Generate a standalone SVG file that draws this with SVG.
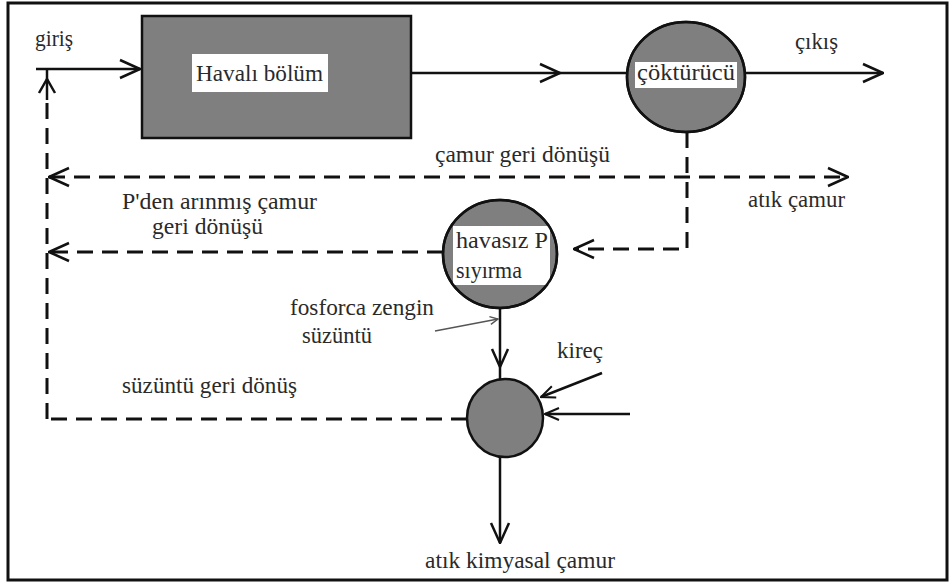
<svg xmlns="http://www.w3.org/2000/svg" width="952" height="584" viewBox="0 0 952 584" font-family="'Liberation Serif', 'DejaVu Serif', serif">
  <style>
    text { font-family: 'Liberation Serif', 'DejaVu Serif', 'Noto Serif', serif; font-size: 23px; fill: #2a2a2a; }
    .unit { fill: #7f7f7f; stroke: #111; stroke-width: 2.5; }
    .outline { fill: none; stroke: #111; stroke-width: 2.5; }
    .label-bg { fill: #ffffff; stroke: none; }
    .flow { fill: none; stroke: #111; stroke-width: 2.5; }
    .dash { fill: none; stroke: #111; stroke-width: 3; stroke-dasharray: 16 9; }
    .thin { fill: none; stroke: #555; stroke-width: 1.4; }
    .head { fill: none; stroke: #111; stroke-width: 2.5; stroke-linejoin: miter; }
  </style>
  <defs>
    <marker id="arrow" viewBox="0 0 22 22" refX="21" refY="11" markerWidth="22" markerHeight="22" markerUnits="userSpaceOnUse" orient="auto-start-reverse">
      <path d="M1,2 L21,11 L1,20" fill="none" stroke="#111" stroke-width="2.5" stroke-dasharray="none"/>
    </marker>
    <marker id="arrow-sm" viewBox="0 0 16 16" refX="15" refY="8" markerWidth="16" markerHeight="16" markerUnits="userSpaceOnUse" orient="auto">
      <path d="M1,2 L15,8 L1,14" fill="none" stroke="#111" stroke-width="2" stroke-dasharray="none"/>
    </marker>
    <marker id="arrow-thin" viewBox="0 0 10 10" refX="9" refY="5" markerWidth="10" markerHeight="10" markerUnits="userSpaceOnUse" orient="auto">
      <path d="M1,1 L9,5 L1,9" fill="none" stroke="#555" stroke-width="1.4"/>
    </marker>
  </defs>

  <rect x="0" y="0" width="952" height="584" fill="#ffffff"/>
  <!-- frame -->
  <rect x="8" y="3" width="939" height="577" fill="none" stroke="#111" stroke-width="3"/>

  <!-- connectors -->
  <g id="connectors">
    <!-- influent -->
    <line class="flow" x1="36" y1="69" x2="140" y2="69" marker-end="url(#arrow)"/>
    <!-- aerated zone to clarifier -->
    <line class="flow" x1="411" y1="73" x2="627" y2="73"/>
    <path class="head" d="M540,64 L560,73 L540,82"/>
    <!-- effluent -->
    <line class="flow" x1="745" y1="73" x2="883" y2="73" marker-end="url(#arrow)"/>

    <!-- sludge return / waste sludge line -->
    <line class="dash" x1="49" y1="177" x2="848" y2="177" marker-start="url(#arrow)" marker-end="url(#arrow)"/>
    <!-- clarifier underflow to stripper -->
    <polyline class="dash" points="687,132 687,249 574,249" marker-end="url(#arrow)"/>
    <!-- P-stripped sludge return -->
    <line class="dash" x1="443" y1="252" x2="49" y2="252" marker-end="url(#arrow)"/>
    <!-- supernatant return -->
    <line class="dash" x1="467" y1="419" x2="47" y2="419"/>
    <!-- left recycle riser -->
    <line class="dash" x1="47" y1="419" x2="47" y2="96"/>
    <line class="flow" x1="47" y1="100" x2="47" y2="70"/>
    <path class="head" d="M39,93 L47,79 L55,93"/>

    <!-- P-rich supernatant down to precipitation -->
    <line class="flow" x1="500" y1="308" x2="500" y2="379"/>
    <path class="head" d="M492,349 L500,367 L508,349"/>
    <!-- lime feed -->
    <line class="flow" x1="602" y1="373" x2="541" y2="397" marker-end="url(#arrow-sm)"/>
    <line class="flow" x1="630" y1="414" x2="545" y2="414" marker-end="url(#arrow-sm)"/>
    <!-- chemical sludge out -->
    <line class="flow" x1="500" y1="457" x2="500" y2="543" marker-end="url(#arrow)"/>
    <!-- label pointer -->
    <line class="thin" x1="435" y1="331" x2="498" y2="319" marker-end="url(#arrow-thin)"/>
  </g>

  <!-- aerated zone -->
  <g id="havali-bolum">
    <rect class="unit" x="142" y="16" width="269" height="122"/>
    <rect class="label-bg" x="192" y="54" width="136" height="38"/>
    <text x="196" y="81" textLength="127" lengthAdjust="spacingAndGlyphs">Havalı bölüm</text>
  </g>

  <!-- clarifier -->
  <g id="cokturucu">
    <ellipse class="unit" cx="686" cy="77" rx="59" ry="55"/>
    <rect class="label-bg" x="635" y="62" width="102" height="26"/>
    <ellipse class="outline" cx="686" cy="77" rx="59" ry="55"/>
    <text x="637" y="80" textLength="98" lengthAdjust="spacingAndGlyphs">çöktürücü</text>
  </g>

  <!-- anaerobic P stripper -->
  <g id="havasiz-p-siyirma">
    <ellipse class="unit" cx="500" cy="254" rx="57" ry="54"/>
    <rect class="label-bg" x="453" y="226" width="97" height="59"/>
    <ellipse class="outline" cx="500" cy="254" rx="57" ry="54"/>
    <text x="456" y="248" textLength="92" lengthAdjust="spacingAndGlyphs">havasız P</text>
    <text x="456" y="278" textLength="66" lengthAdjust="spacingAndGlyphs">sıyırma</text>
  </g>

  <!-- lime precipitation -->
  <g id="cokeltme">
    <ellipse class="unit" cx="505" cy="418" rx="38" ry="39"/>
  </g>

  <!-- stream labels -->
  <g id="labels">
    <text x="35" y="46" textLength="38" lengthAdjust="spacingAndGlyphs">giriş</text>
    <text x="795" y="49" textLength="43" lengthAdjust="spacingAndGlyphs">çıkış</text>
    <text x="435" y="162" textLength="175" lengthAdjust="spacingAndGlyphs">çamur geri dönüşü</text>
    <text x="748" y="207" textLength="97" lengthAdjust="spacingAndGlyphs">atık çamur</text>
    <text x="122" y="209" font-size="21" textLength="195" lengthAdjust="spacingAndGlyphs">P'den arınmış çamur</text>
    <text x="152" y="234" font-size="21" textLength="111" lengthAdjust="spacingAndGlyphs">geri dönüşü</text>
    <text x="290" y="315" font-size="22" textLength="144" lengthAdjust="spacingAndGlyphs">fosforca zengin</text>
    <text x="302" y="343" font-size="22" textLength="70" lengthAdjust="spacingAndGlyphs">süzüntü</text>
    <text x="557" y="358" textLength="46" lengthAdjust="spacingAndGlyphs">kireç</text>
    <text x="122" y="393" textLength="175" lengthAdjust="spacingAndGlyphs">süzüntü geri dönüş</text>
    <text x="425" y="568" textLength="190" lengthAdjust="spacingAndGlyphs">atık kimyasal çamur</text>
  </g>
</svg>
